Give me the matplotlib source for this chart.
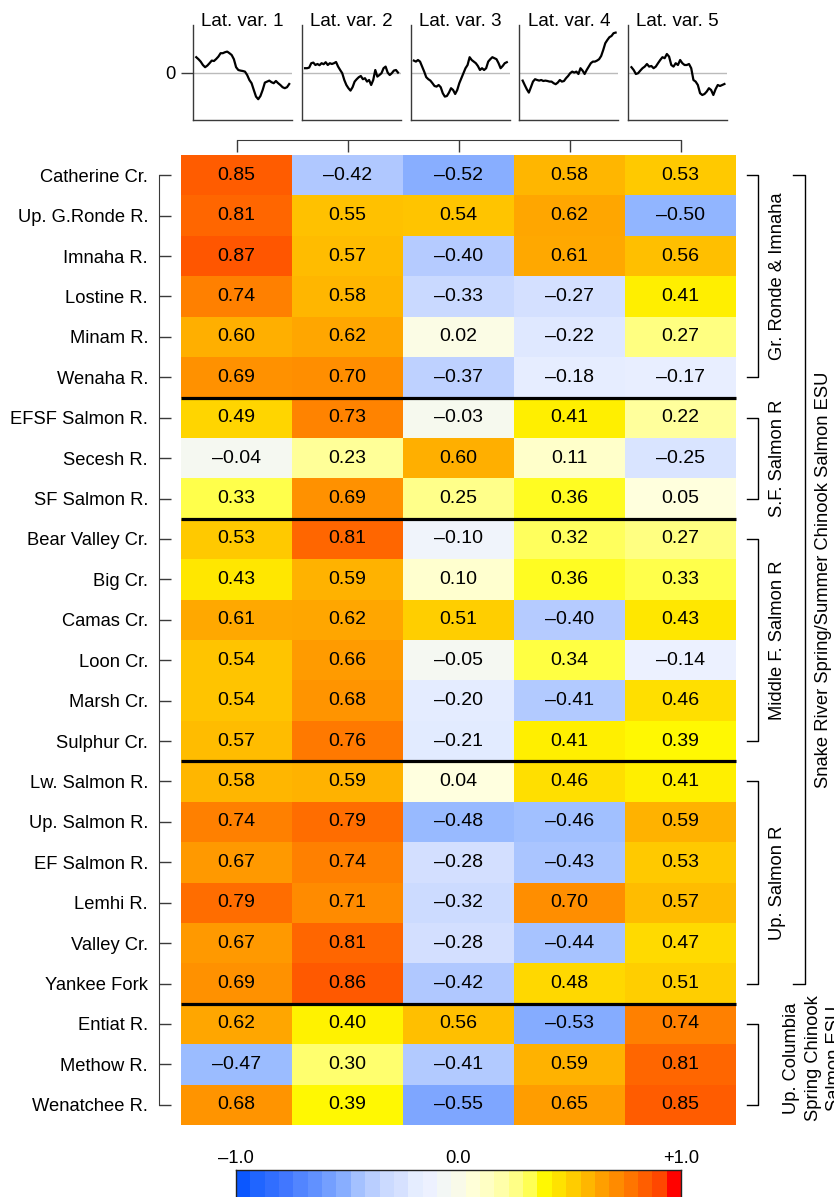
import numpy as np
import matplotlib
matplotlib.use("Agg")
import matplotlib.pyplot as plt
from matplotlib.colors import LinearSegmentedColormap
from matplotlib.transforms import blended_transform_factory

plt.rcParams['font.family'] = ['Liberation Sans', 'DejaVu Sans']

# ---------------- data ----------------
populations = [
    "Catherine Cr.", "Up. G.Ronde R.", "Imnaha R.", "Lostine R.", "Minam R.",
    "Wenaha R.", "EFSF Salmon R.", "Secesh R.", "SF Salmon R.", "Bear Valley Cr.",
    "Big Cr.", "Camas Cr.", "Loon Cr.", "Marsh Cr.", "Sulphur Cr.",
    "Lw. Salmon R.", "Up. Salmon R.", "EF Salmon R.", "Lemhi R.", "Valley Cr.",
    "Yankee Fork", "Entiat R.", "Methow R.", "Wenatchee R.",
]
variables = ["Lat. var. 1", "Lat. var. 2", "Lat. var. 3", "Lat. var. 4", "Lat. var. 5"]

corr_var1 = [0.85, 0.81, 0.87, 0.74, 0.60, 0.69, 0.49, -0.04, 0.33, 0.53, 0.43, 0.61,
             0.54, 0.54, 0.57, 0.58, 0.74, 0.67, 0.79, 0.67, 0.69, 0.62, -0.47, 0.68]
corr_var2 = [-0.42, 0.55, 0.57, 0.58, 0.62, 0.70, 0.73, 0.23, 0.69, 0.81, 0.59, 0.62,
             0.66, 0.68, 0.76, 0.59, 0.79, 0.74, 0.71, 0.81, 0.86, 0.40, 0.30, 0.39]
corr_var3 = [-0.52, 0.54, -0.40, -0.33, 0.02, -0.37, -0.03, 0.60, 0.25, -0.10, 0.10, 0.51,
             -0.05, -0.20, -0.21, 0.04, -0.48, -0.28, -0.32, -0.28, -0.42, 0.56, -0.41, -0.55]
corr_var4 = [0.58, 0.62, 0.61, -0.27, -0.22, -0.18, 0.41, 0.11, 0.36, 0.32, 0.36, -0.40,
             0.34, -0.41, 0.41, 0.46, -0.46, -0.43, 0.70, -0.44, 0.48, -0.53, 0.59, 0.65]
corr_var5 = [0.53, -0.50, 0.56, 0.41, 0.27, -0.17, 0.22, -0.25, 0.05, 0.27, 0.33, 0.43,
             -0.14, 0.46, 0.39, 0.41, 0.59, 0.53, 0.57, 0.47, 0.51, 0.74, 0.81, 0.85]

# group boundaries (row index where a new group starts) and group brackets
group_breaks = [6, 9, 15, 21]
group_names = ["Gr. Ronde & Imnaha", "S.F. Salmon R", "Middle F. Salmon R",
               "Up. Salmon R", "Up. Columbia\nSpring Chinook\nSalmon ESU"]
group_first = [0, 6, 9, 15, 21]
group_last = [5, 8, 14, 20, 23]
esu_name = "Snake River Spring/Summer Chinook Salmon ESU"
esu_first, esu_last = 0, 20

# latent variable trends
latent1 = [0.77, 0.67, 0.55, 0.38, 0.27, 0.35, 0.47, 0.60, 0.58, 0.68, 0.80, 0.97, 0.97,
           1.02, 1.05, 0.97, 0.88, 0.67, 0.27, 0.13, 0.10, 0.08, 0.05, -0.12, -0.37, -0.53,
           -0.87, -1.20, -1.33, -1.17, -0.87, -0.50, -0.45, -0.40, -0.48, -0.53, -0.42,
           -0.53, -0.62, -0.73, -0.78, -0.73, -0.57]
latent2 = [0.22, 0.22, 0.25, 0.47, 0.50, 0.38, 0.43, 0.37, 0.47, 0.42, 0.52, 0.38, 0.47,
           0.43, 0.47, 0.53, 0.30, 0.13, -0.03, -0.37, -0.62, -0.78, -0.90, -0.73, -0.45,
           -0.33, -0.23, -0.17, -0.33, -0.28, -0.45, -0.37, -0.62, -0.37, 0.13, -0.20,
           -0.12, -0.03, 0.22, 0.30, 0.00, -0.12, -0.03, 0.10, 0.13, 0.00]
latent3 = [0.60, 0.55, 0.63, 0.55, 0.30, 0.05, -0.23, -0.33, -0.40, -0.53, -0.67, -0.70,
           -0.62, -0.73, -1.03, -1.20, -1.17, -1.00, -0.78, -0.87, -1.07, -0.87, -0.53,
           -0.28, -0.03, 0.22, 0.38, 0.77, 0.63, 0.55, 0.47, 0.33, 0.13, 0.22, 0.13, 0.22,
           0.55, 0.67, 0.77, 0.72, 0.67, 0.47, 0.22, 0.33, 0.47, 0.52]
latent4 = [-0.40, -0.62, -0.83, -1.00, -0.73, -0.45, -0.33, -0.37, -0.40, -0.37, -0.42,
           -0.40, -0.42, -0.45, -0.45, -0.53, -0.58, -0.50, -0.37, -0.45, -0.42, -0.28,
           -0.17, -0.03, 0.05, 0.00, 0.05, -0.07, 0.22, 0.10, -0.07, 0.13, 0.30, 0.47, 0.55,
           0.55, 0.60, 0.67, 0.83, 1.13, 1.47, 1.63, 1.77, 1.83, 1.97, 2.00]
latent5 = [0.27, 0.13, -0.07, -0.03, 0.10, 0.22, 0.30, 0.43, 0.30, 0.33, 0.22, 0.30, 0.47,
           0.63, 0.77, 0.72, 0.93, 0.80, 0.38, 0.30, 0.47, 0.38, 0.63, 0.47, 0.38, 0.38,
           0.43, 0.22, -0.37, -0.45, -0.62, -1.03, -1.12, -1.07, -0.95, -0.78, -0.87, -1.12,
           -0.83, -0.62, -0.67, -0.62, -0.57]

corr = np.array([corr_var1, corr_var2, corr_var3, corr_var4, corr_var5]).T
latents = [latent1, latent2, latent3, latent4, latent5]

# ---------------- colour scale ----------------
cmap_anchors = [
    (-1.00, '#0050FF'), (-0.90, '#2266FF'), (-0.77, '#4479FF'), (-0.65, '#6090FF'),
    (-0.52, '#88AEFF'), (-0.48, '#99BBFF'), (-0.42, '#B0C8FF'), (-0.33, '#CADAFF'),
    (-0.27, '#D4E0FF'), (-0.20, '#E4ECFF'), (-0.12, '#EEF2FF'), (-0.05, '#F5F8F2'),
    (0.00, '#F8FAEA'), (0.04, '#FFFFE0'), (0.11, '#FFFFCC'), (0.23, '#FFFF99'),
    (0.30, '#FFFF70'), (0.34, '#FFFF44'), (0.39, '#FFF800'), (0.41, '#FFF000'),
    (0.46, '#FFDF00'), (0.49, '#FFD500'), (0.54, '#FFC600'), (0.58, '#FFB800'),
    (0.61, '#FFAA00'), (0.69, '#FF9300'), (0.74, '#FF8000'), (0.78, '#FF7500'),
    (0.81, '#FF6600'), (0.87, '#FF5800'), (0.92, '#FF4000'), (0.97, '#FF0000'),
    (1.00, '#FF0000'),
]
cmap = LinearSegmentedColormap.from_list(
    "corr", [((v + 1) / 2, c) for v, c in cmap_anchors])

# ---------------- figure ----------------
W, H = 834, 1197
fig = plt.figure(figsize=(W / 100, H / 100), dpi=100)


def px_axes(x0, y0, x1, y1):
    """Axes from pixel box (top-left origin)."""
    return fig.add_axes([x0 / W, 1 - y1 / H, (x1 - x0) / W, (y1 - y0) / H])


PT = 72 / 100  # points per pixel
AX_COLOR = '#3a3a3a'
FS = 13.2

# heatmap
hx0, hx1, hy0, hy1 = 181, 736, 155, 1125
ax = px_axes(hx0, hy0, hx1, hy1)
nrow, ncol = corr.shape
ax.pcolormesh(np.arange(ncol + 1), np.arange(nrow + 1), corr, cmap=cmap,
              vmin=-1, vmax=1, shading='flat')
ax.set_xlim(0, ncol)
ax.set_ylim(nrow, 0)
for i in range(nrow):
    for j in range(ncol):
        v = corr[i, j]
        s = f"{abs(v):.2f}"
        if v < 0:
            s = "\u2013" + s
        ax.text(j + 0.5, i + 0.5, s, ha='center', va='center', fontsize=14, color='black')

for b in group_breaks:
    ax.plot([0, ncol], [b, b], color='black', lw=2.3, clip_on=False, zorder=5,
            solid_capstyle='butt')

# spines first (moving a spine resets tick styling)
ax.spines['left'].set_position(('outward', 22 * PT))
ax.spines['left'].set_bounds(0.5, nrow - 0.5)
ax.spines['left'].set_color(AX_COLOR)
ax.spines['top'].set_position(('outward', 15 * PT))
ax.spines['top'].set_bounds(0.5, ncol - 0.5)
ax.spines['top'].set_color(AX_COLOR)
ax.spines['right'].set_visible(False)
ax.spines['bottom'].set_visible(False)

# left axis with row labels
ax.set_yticks(np.arange(nrow) + 0.5)
ax.set_yticklabels(populations)
ax.tick_params(axis='y', direction='in', length=12 * PT, width=1, color=AX_COLOR,
               pad=11 * PT, labelsize=FS)

# top bracket axis
ax.xaxis.tick_top()
ax.set_xticks(np.arange(ncol) + 0.5)
ax.set_xticklabels([])
ax.tick_params(axis='x', direction='in', length=12 * PT, width=1, color=AX_COLOR)

# group brackets on the right
tr = blended_transform_factory(ax.transAxes, ax.transData)
hw = hx1 - hx0


def fx(px):
    return (px - hx0) / hw


def bracket(first, last, x_in, x_out):
    y0, y1 = first + 0.5, last + 0.5
    ax.plot([fx(x_in), fx(x_out), fx(x_out), fx(x_in)], [y0, y0, y1, y1],
            color='black', lw=1, transform=tr, clip_on=False)


for f, l, name in zip(group_first, group_last, group_names):
    bracket(f, l, 747, 758)
    if "\n" in name:
        ax.text(fx(813), (f + l + 1) / 2 - 0.15, name, transform=tr, rotation=90,
                ha='center', va='center', fontsize=FS, linespacing=1.35,
                multialignment='center')
    else:
        ax.text(fx(777), (f + l + 1) / 2, name, transform=tr, rotation=90,
                ha='center', va='center', fontsize=FS)

bracket(esu_first, esu_last, 793, 805)
ax.text(fx(823), (esu_first + esu_last + 1) / 2, esu_name, transform=tr, rotation=90,
        ha='center', va='center', fontsize=FS)

# latent trend panels
for k, (name, series) in enumerate(zip(variables, latents)):
    left = 193 + 108.8 * k
    pax = px_axes(left, 25, left + 99, 120)
    n = len(series)
    x = np.arange(n)
    pax.axhline(0, color='#BBBBBB', lw=1, zorder=0)
    pax.plot(x, series, color='black', lw=1.6, solid_joinstyle='round')
    pax.set_xlim(-0.035 * (n - 1), (n - 1) * 1.03)
    pax.set_ylim(-2.37, 2.38)
    pax.set_xticks([])
    for sp in ('top', 'right'):
        pax.spines[sp].set_visible(False)
    for sp in ('left', 'bottom'):
        pax.spines[sp].set_color(AX_COLOR)
        pax.spines[sp].set_linewidth(1)
    if k == 0:
        pax.set_yticks([0])
        pax.set_yticklabels(['0'])
        pax.tick_params(axis='y', length=12 * PT, width=1, color=AX_COLOR, pad=4,
                        labelsize=FS)
    else:
        pax.set_yticks([])
    pax.text(0.5, 0.985, name, transform=pax.transAxes, ha='center', va='baseline',
             fontsize=13.5)

# colour key with discrete steps
nbins = 31
edges = np.linspace(-1, 1, nbins + 1)
centers = (edges[:-1] + edges[1:]) / 2
cax = px_axes(236, 1170, 681, 1210)
cax.pcolormesh(edges, [0, 1], centers[np.newaxis, :], cmap=cmap, vmin=-1, vmax=1)
cax.set_xlim(-1, 1)
cax.set_ylim(0, 1)
cax.set_xticks([])
cax.set_yticks([])
for sp in cax.spines.values():
    sp.set_color('#222222')
    sp.set_linewidth(1)
for xv, lab in [(-1, "\u20131.0"), (0, "0.0"), (1, "+1.0")]:
    cax.text(xv, 1.08, lab, ha='center', va='bottom', fontsize=FS,
             transform=blended_transform_factory(cax.transData, cax.transAxes))

fig.savefig("out.png", dpi=100)
